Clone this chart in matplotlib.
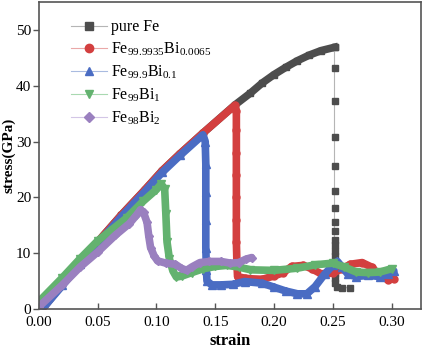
import matplotlib
matplotlib.use('Agg')
import matplotlib.pyplot as plt

plt.rcParams['font.family'] = ['Liberation Serif', 'DejaVu Serif']
plt.rcParams['mathtext.fontset'] = 'custom'
plt.rcParams['mathtext.rm'] = 'Liberation Serif'
plt.rcParams['mathtext.it'] = 'Liberation Serif:italic'
plt.rcParams['mathtext.bf'] = 'Liberation Serif:bold'

# ---- data (strain, stress GPa) ----
# pure Fe: dense rising part, then sparse drop
fe_strain = [0.003, 0.02, 0.035, 0.05, 0.07, 0.09, 0.105, 0.12, 0.14, 0.167,
             0.18, 0.19, 0.20, 0.21, 0.22, 0.23, 0.24, 0.2515]
fe_stress = [0.0, 4.5, 8.3, 12.0, 16.8, 21.3, 24.8, 27.8, 31.6, 36.6,
             38.7, 40.5, 42.0, 43.3, 44.5, 45.5, 46.3, 46.9]
fe_drop_strain = [0.2515, 0.2515, 0.2515, 0.2515, 0.2515, 0.2515, 0.2515, 0.2515, 0.2515,
                  0.2515, 0.2515, 0.2515, 0.2515, 0.2515, 0.2515, 0.2515, 0.2515, 0.2515,
                  0.254, 0.258, 0.2645]
fe_drop_stress = [46.9, 43.2, 37.2, 30.9, 25.7, 21.2, 18.1, 15.5, 13.9,
                  12.4, 11.4, 10.4, 9.4, 8.4, 7.4, 6.4, 5.5, 4.6,
                  3.9, 3.8, 3.8]

red_strain = [0.003, 0.02, 0.035, 0.05, 0.07, 0.09, 0.105, 0.12, 0.14, 0.1667,
              0.168, 0.168, 0.168, 0.168, 0.168, 0.168, 0.168, 0.1685, 0.169,
              0.175, 0.18, 0.19, 0.20, 0.208, 0.215, 0.225, 0.232, 0.24, 0.25,
              0.258, 0.265, 0.275, 0.283, 0.29, 0.297, 0.302]
red_stress = [0.0, 4.5, 8.3, 12.0, 16.8, 21.3, 24.8, 27.8, 31.6, 36.5,
              35.5, 32.0, 28.0, 24.0, 20.0, 16.0, 12.0, 8.0, 5.8,
              5.5, 5.4, 5.3, 5.9, 6.5, 7.6, 7.8, 7.2, 6.3, 6.4,
              7.2, 8.0, 8.3, 7.5, 6.0, 5.2, 5.4]

blue_strain = [0.003, 0.02, 0.035, 0.05, 0.07, 0.09, 0.105, 0.12, 0.1395,
               0.1415, 0.142, 0.142, 0.142, 0.142, 0.1425, 0.143,
               0.147, 0.155, 0.165, 0.175, 0.19, 0.20, 0.21, 0.22, 0.228,
               0.235, 0.243, 0.25, 0.254, 0.258, 0.263, 0.27, 0.28, 0.29,
               0.297, 0.302]
blue_stress = [0.0, 4.2, 8.0, 11.7, 16.5, 21.0, 24.5, 27.5, 31.2,
               30.0, 26.0, 21.0, 16.0, 11.0, 7.0, 5.0,
               4.3, 4.3, 4.4, 4.9, 4.6, 3.9, 3.2, 2.7, 2.7,
               4.0, 6.2, 7.8, 8.5, 7.5, 6.2, 5.8, 6.0, 5.8,
               6.2, 6.8]

green_strain = [0.0, 0.02, 0.035, 0.05, 0.0746, 0.0887, 0.10, 0.104,
                0.107, 0.108, 0.109, 0.111, 0.114, 0.117, 0.122, 0.13,
                0.14, 0.15, 0.16, 0.17, 0.18, 0.20, 0.22, 0.235, 0.25,
                0.26, 0.27, 0.28, 0.29, 0.30]
green_stress = [1.3, 5.6, 9.0, 12.2, 16.3, 19.3, 21.4, 22.4,
                21.5, 17.0, 12.0, 9.0, 6.8, 5.7, 5.9, 6.5,
                7.2, 7.6, 7.8, 7.5, 7.0, 6.9, 7.3, 7.9, 8.2,
                7.5, 6.6, 6.5, 6.6, 7.2]

purple_strain = [0.0, 0.02, 0.035, 0.05, 0.065, 0.077, 0.083, 0.0865,
                 0.089, 0.092, 0.0935, 0.095, 0.098, 0.101, 0.108, 0.116,
                 0.121, 0.1256, 0.13, 0.137, 0.145, 0.155, 0.163, 0.17,
                 0.176, 0.181]
purple_stress = [0.4, 4.3, 7.5, 10.2, 13.2, 15.3, 16.8, 17.8,
                 17.3, 15.5, 13.0, 11.0, 9.5, 8.6, 8.2, 8.0,
                 7.3, 6.9, 7.5, 8.3, 8.5, 8.5, 8.2, 8.3,
                 8.9, 9.2]

labels = ['pure Fe',
          r'$\mathrm{Fe_{99.9935}Bi_{0.0065}}$',
          r'$\mathrm{Fe_{99.9}Bi_{0.1}}$',
          r'$\mathrm{Fe_{99}Bi_{1}}$',
          r'$\mathrm{Fe_{98}Bi_{2}}$']
colors = ['#4d4d4d', '#d33f3f', '#4a6cc3', '#63b26f', '#9a80bf']
light = ['#b5b5b5', '#eaa8a8', '#a9bbe0', '#a9d9b1', '#d3c6e6']
markers = ['s', 'o', '^', 'v', 'D']
msizes = [4.3, 5.0, 5.2, 5.2, 4.2]
band = 5.5

fig = plt.figure(figsize=(4.23, 3.53), dpi=100)
ax = fig.add_axes([0.092, 0.125, 0.903, 0.869])

# pure Fe: thick dense band while rising, sparse squares on the drop
ax.plot(fe_strain, fe_stress, color=colors[0], lw=band, solid_joinstyle='round')
ax.plot(fe_strain, fe_stress, lw=0, marker=markers[0], ms=msizes[0],
        mfc=colors[0], mec=colors[0])
ax.plot(fe_drop_strain, fe_drop_stress, color=light[0], lw=0.8,
        marker=markers[0], ms=msizes[0], mfc=colors[0], mec=colors[0])

series = [(fe_strain, fe_stress), (red_strain, red_stress), (blue_strain, blue_stress),
          (green_strain, green_stress), (purple_strain, purple_stress)]
for i, (xs, ys) in enumerate(series):
    if i > 0:
        ax.plot(xs, ys, color=colors[i], lw=band, solid_joinstyle='round',
                solid_capstyle='round')
        ax.plot(xs, ys, lw=0, marker=markers[i], ms=msizes[i],
                mfc=colors[i], mec=colors[i])
    # legend handle
    ax.plot([], [], color=light[i], lw=0.8, marker=markers[i], ms=msizes[i] + 1,
            mfc=colors[i], mec=colors[i], label=labels[i])

ax.set_xlim(0, 0.325)
ax.set_ylim(0, 55)
ax.set_xticks([0.00, 0.05, 0.10, 0.15, 0.20, 0.25, 0.30])
ax.set_xticklabels(['0.00', '0.05', '0.10', '0.15', '0.20', '0.25', '0.30'])
ax.set_yticks([0, 10, 20, 30, 40, 50])
ax.tick_params(axis='x', direction='in', length=4, width=1, labelsize=11,
               color='#555555', pad=5)
ax.tick_params(axis='y', direction='out', length=4, width=1, labelsize=11,
               color='#555555', pad=1.5)
for sp in ax.spines.values():
    sp.set_color('#555555')
    sp.set_linewidth(1.2)

ax.set_xlabel('strain', fontsize=12, fontweight='bold', labelpad=3)
ax.set_ylabel('stress(GPa)', fontsize=11, fontweight='bold')
ax.yaxis.set_label_coords(-0.06, 0.5)

ax.legend(loc='upper left', bbox_to_anchor=(0.06, 0.975), frameon=False,
          fontsize=11.5, handlelength=2.2, handletextpad=0.3, labelspacing=0.34,
          borderaxespad=0.2)

fig.savefig('out.png', dpi=100)
